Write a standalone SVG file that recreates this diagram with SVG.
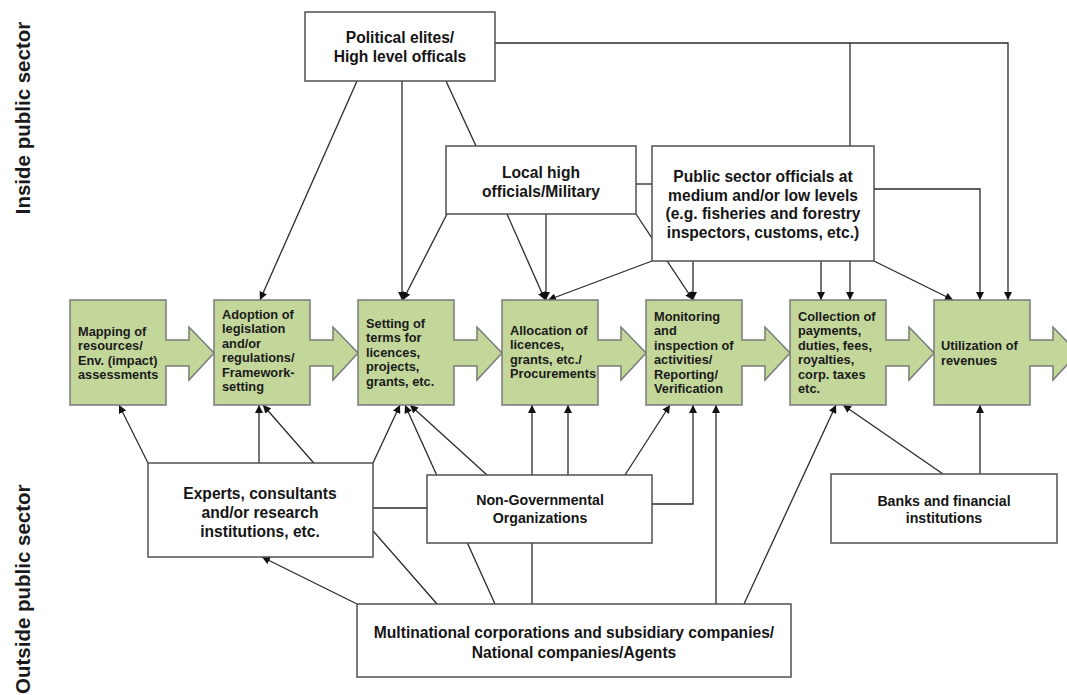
<svg xmlns="http://www.w3.org/2000/svg" width="1067" height="695" viewBox="0 0 1067 695">
<defs>
<marker id="ah" viewBox="0 0 10 10" refX="10" refY="5" markerWidth="8" markerHeight="8" orient="auto" markerUnits="userSpaceOnUse"><path d="M0,0 L10,5 L0,10 z" fill="#111"/></marker>
</defs>
<style>
.bg{fill:#fff}
.c{fill:none;stroke:#2a2a2a;stroke-width:1.3}
.a{marker-end:url(#ah)}
.n{fill:#fff;stroke:#505050;stroke-width:1.5}
.g{fill:#c4d79b;stroke:#7a7a7a;stroke-width:1.5}
.t{font-family:"Liberation Sans",Arial,sans-serif;font-weight:bold;font-size:15.6px;fill:#151515;text-anchor:middle}
.s{font-family:"Liberation Sans",Arial,sans-serif;font-weight:bold;font-size:14.2px;fill:#151515;text-anchor:middle}
.p{font-family:"Liberation Sans",Arial,sans-serif;font-weight:bold;font-size:12.8px;fill:#1a1a1a}
.side{font-family:"Liberation Sans",Arial,sans-serif;font-weight:bold;font-size:20.5px;fill:#1a1a1a}
</style>
<rect class="bg" x="0" y="0" width="1067" height="695"/>
<text class="side" transform="translate(30,118) rotate(-90)" text-anchor="middle">Inside public sector</text>
<text class="side" transform="translate(30,694) rotate(-90)" text-anchor="start">Outside public sector</text>
<g id="connectors">
<path class="c a" d="M357,81 L260,300"/>
<path class="c a" d="M402,81 V300"/>
<path class="c" d="M446,81 L476,146"/>
<path class="c a" d="M495,43 H1008 V300"/>
<path class="c a" d="M850,43 V300"/>
<path class="c a" d="M447,214 L403,300"/>
<path class="c a" d="M507,214 L545,300"/>
<path class="c a" d="M546,214 V300"/>
<path class="c" d="M636,184 H652"/>
<path class="c a" d="M636,214 L693,300"/>
<path class="c a" d="M652,261 L548,300"/>
<path class="c a" d="M693,261 V300"/>
<path class="c a" d="M821,261 V300"/>
<path class="c a" d="M874,261 L953,300"/>
<path class="c a" d="M874,189 H980 V300"/>
<path class="c a" d="M148,463 L119,405"/>
<path class="c a" d="M259,463 V405"/>
<path class="c a" d="M437,604 L263,405"/>
<path class="c a" d="M373,463 L400,405"/>
<path class="c" d="M373,508 H427"/>
<path class="c a" d="M357,604 L262,557"/>
<path class="c a" d="M495,604 L405,405"/>
<path class="c a" d="M487,475 L410,405"/>
<path class="c a" d="M532,604 V405"/>
<path class="c a" d="M568,475 V405"/>
<path class="c a" d="M625,475 L670,405"/>
<path class="c a" d="M652,504 H693 V405"/>
<path class="c a" d="M716,604 V405"/>
<path class="c a" d="M744,604 L836,405"/>
<path class="c a" d="M943,474 L843,405"/>
<path class="c a" d="M980,474 V405"/>
</g>
<g id="political">
<rect class="n" x="305" y="12" width="190" height="69"/>
<text class="t" x="400" y="43">Political elites/</text>
<text class="t" x="400" y="62">High level officals</text>
</g>
<g id="local">
<rect class="n" x="446" y="146" width="190" height="68"/>
<text class="t" x="541" y="177.5">Local high</text>
<text class="t" x="541" y="196.5">officials/Military</text>
</g>
<g id="publicsector">
<rect class="n" x="652" y="146" width="222" height="115"/>
<text class="t" x="763" y="182">Public sector officials at</text>
<text class="t" x="763" y="200.5">medium and/or low levels</text>
<text class="t" x="763" y="219">(e.g. fisheries and forestry</text>
<text class="t" x="763" y="237.5">inspectors, customs, etc.)</text>
</g>
<g id="step1">
<path class="g" d="M70,300 H166 V340 H189 V327 L214,353 L189,380 V366 H166 V405 H70 Z"/>
<text class="p" x="78" y="335.5">Mapping of</text>
<text class="p" x="78" y="350">resources/</text>
<text class="p" x="78" y="364.5">Env. (impact)</text>
<text class="p" x="78" y="379">assessments</text>
</g>
<g id="step2">
<path class="g" d="M214,300 H310 V340 H333 V327 L358,353 L333,380 V366 H310 V405 H214 Z"/>
<text class="p" x="222" y="318.5">Adoption of</text>
<text class="p" x="222" y="333">legislation</text>
<text class="p" x="222" y="347.5">and/or</text>
<text class="p" x="222" y="362">regulations/</text>
<text class="p" x="222" y="376.5">Framework-</text>
<text class="p" x="222" y="391">setting</text>
</g>
<g id="step3">
<path class="g" d="M358,300 H454 V340 H477 V327 L502,353 L477,380 V366 H454 V405 H358 Z"/>
<text class="p" x="366" y="327.5">Setting of</text>
<text class="p" x="366" y="342">terms for</text>
<text class="p" x="366" y="356.5">licences,</text>
<text class="p" x="366" y="371">projects,</text>
<text class="p" x="366" y="385.5">grants, etc.</text>
</g>
<g id="step4">
<path class="g" d="M502,300 H598 V340 H621 V327 L646,353 L621,380 V366 H598 V405 H502 Z"/>
<text class="p" x="510" y="334.5">Allocation of</text>
<text class="p" x="510" y="349">licences,</text>
<text class="p" x="510" y="363.5">grants, etc./</text>
<text class="p" x="510" y="378">Procurements</text>
</g>
<g id="step5">
<path class="g" d="M646,300 H742 V340 H765 V327 L790,353 L765,380 V366 H742 V405 H646 Z"/>
<text class="p" x="654" y="320.5">Monitoring</text>
<text class="p" x="654" y="335">and</text>
<text class="p" x="654" y="349.5">inspection of</text>
<text class="p" x="654" y="364">activities/</text>
<text class="p" x="654" y="378.5">Reporting/</text>
<text class="p" x="654" y="393">Verification</text>
</g>
<g id="step6">
<path class="g" d="M790,300 H886 V340 H909 V327 L934,353 L909,380 V366 H886 V405 H790 Z"/>
<text class="p" x="798" y="320.5">Collection of</text>
<text class="p" x="798" y="335">payments,</text>
<text class="p" x="798" y="349.5">duties, fees,</text>
<text class="p" x="798" y="364">royalties,</text>
<text class="p" x="798" y="378.5">corp. taxes</text>
<text class="p" x="798" y="393">etc.</text>
</g>
<g id="step7">
<path class="g" d="M934,300 H1030 V340 H1053 V327 L1078,353 L1053,380 V366 H1030 V405 H934 Z"/>
<text class="p" x="941" y="349.5">Utilization of</text>
<text class="p" x="941" y="365">revenues</text>
</g>
<g id="experts">
<rect class="n" x="148" y="463" width="225" height="94"/>
<text class="t" x="260" y="498.5">Experts, consultants</text>
<text class="t" x="260" y="517.5">and/or research</text>
<text class="t" x="260" y="536.5">institutions, etc.</text>
</g>
<g id="ngo">
<rect class="n" x="427" y="475" width="225" height="68"/>
<text class="s" x="540" y="505">Non-Governmental</text>
<text class="s" x="540" y="523">Organizations</text>
</g>
<g id="banks">
<rect class="n" x="831" y="474" width="226" height="69"/>
<text class="s" x="944" y="506">Banks and financial</text>
<text class="s" x="944" y="523">institutions</text>
</g>
<g id="multinational">
<rect class="n" x="357" y="604" width="434" height="73"/>
<text class="t" x="574" y="637.5">Multinational corporations and subsidiary companies/</text>
<text class="t" x="574" y="657.5">National companies/Agents</text>
</g>
</svg>
